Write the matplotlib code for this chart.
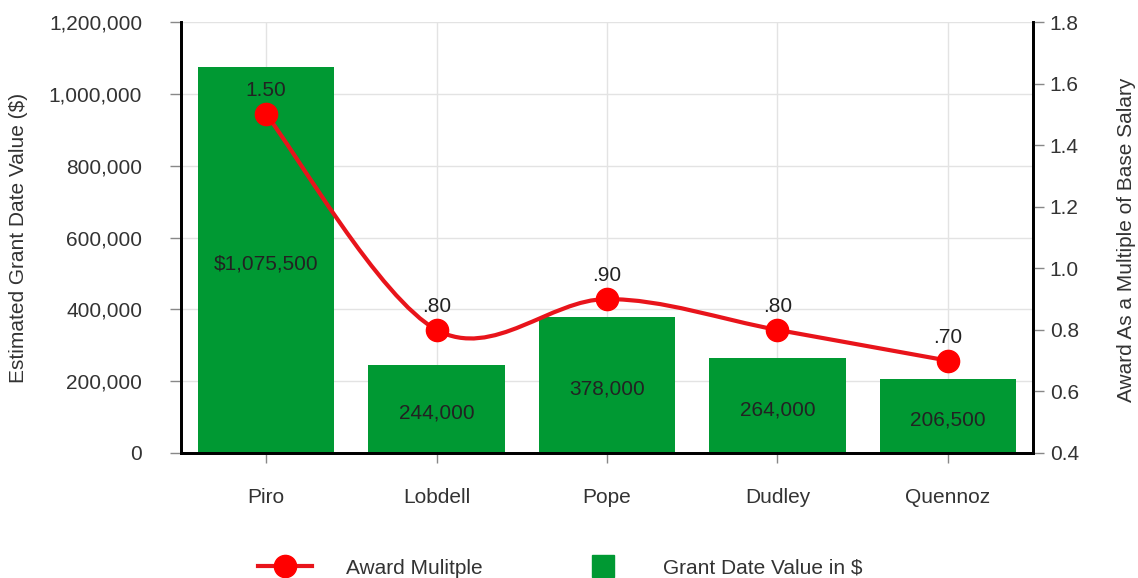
import matplotlib
matplotlib.use("Agg")
import matplotlib.pyplot as plt
from matplotlib.path import Path
from matplotlib.patches import PathPatch
from matplotlib.lines import Line2D
from matplotlib.ticker import FuncFormatter
import numpy as np

plt.rcParams['font.family'] = ['Liberation Sans', 'DejaVu Sans']

categories = ["Piro", "Lobdell", "Pope", "Dudley", "Quennoz"]
grant_values = [1075500, 244000, 378000, 264000, 206500]
grant_labels = ["$1,075,500", "244,000", "378,000", "264,000", "206,500"]
award_multiple = [1.50, 0.80, 0.90, 0.80, 0.70]
award_labels = ["1.50", ".80", ".90", ".80", ".70"]
left_ticks = [0, 200000, 400000, 600000, 800000, 1000000, 1200000]
right_ticks = [0.4, 0.6, 0.8, 1.0, 1.2, 1.4, 1.6, 1.8]

GREEN = "#009933"
RED_LINE = "#e8141b"
RED_MARK = "#ff0000"
TXT = "#333333"
FS = 15

fig = plt.figure(figsize=(11.38, 5.78), dpi=100)
ax = fig.add_axes([181/1138, 1-453/578, (1033-181)/1138, (453-22)/578])
ax2 = ax.twinx()

x = np.arange(len(categories))
ax.bar(x, grant_values, width=0.8, color=GREEN, zorder=2)
for xi, v, lab in zip(x, grant_values, grant_labels):
    ax.annotate(lab, (xi, v/2), xytext=(0, -3), textcoords='offset points',
                ha='center', va='center', fontsize=FS, color='#222222', zorder=3)

ax.set_xlim(-0.5, len(categories)-0.5)
ax.set_ylim(0, 1200000)
ax.set_yticks(left_ticks)
ax.yaxis.set_major_formatter(FuncFormatter(lambda v, p: f"{int(v):,}"))
ax.set_xticks(x)
ax.set_xticklabels(categories)
ax.grid(True, color="#e3e3e3", linewidth=1, zorder=0)
ax.set_axisbelow(True)

# smooth (Catmull-Rom) curve through the data points
ys = award_multiple
pts = list(zip(x.astype(float), ys))
verts = [pts[0]]
codes = [Path.MOVETO]
n = len(pts)
for i in range(n-1):
    p0 = pts[i-1] if i > 0 else pts[i]
    p1 = pts[i]
    p2 = pts[i+1]
    p3 = pts[i+2] if i+2 < n else pts[i+1]
    c1 = (p1[0] + (p2[0]-p0[0])/6, p1[1] + (p2[1]-p0[1])/6)
    c2 = (p2[0] - (p3[0]-p1[0])/6, p2[1] - (p3[1]-p1[1])/6)
    verts += [c1, c2, p2]
    codes += [Path.CURVE4]*3
ax2.add_patch(PathPatch(Path(verts, codes), facecolor='none', edgecolor=RED_LINE,
                        linewidth=3, zorder=3))
ax2.plot(x, ys, linestyle='none', marker='o', markersize=16, color=RED_MARK,
         markeredgecolor=RED_MARK, zorder=4)
for xi, v, lab in zip(x, ys, award_labels):
    ax2.annotate(lab, (xi, v), xytext=(0, 17), textcoords='offset points',
                 ha='center', va='center', fontsize=FS, color='#222222', zorder=5)
ax2.set_ylim(0.4, 1.8)
ax2.set_yticks(right_ticks)
ax2.yaxis.set_major_formatter(FuncFormatter(lambda v, p: f"{v:.1f}"))

for a in (ax, ax2):
    a.spines['top'].set_visible(False)
    for s in ('left', 'right', 'bottom'):
        a.spines[s].set_linewidth(2)
        a.spines[s].set_color('black')

ax.tick_params(axis='y', length=8, width=1, color='#888888', pad=20, labelsize=FS, labelcolor=TXT)
ax.tick_params(axis='x', length=7, width=1, color='#888888', pad=18, labelsize=FS, labelcolor=TXT)
ax2.tick_params(axis='y', length=8, width=1, color='#888888', pad=4, labelsize=FS, labelcolor=TXT)

fig.text(19/1138, 1-238/578, "Estimated Grant Date Value ($)", rotation=90,
         ha='center', va='center', fontsize=FS, color=TXT)
fig.text(1126/1138, 1-240/578, "Award As a Multiple of Base Salary", rotation=90,
         ha='center', va='center', fontsize=FS, color=TXT)

handles = [
    Line2D([], [], color=RED_LINE, linewidth=3, marker='o', markersize=16,
           markerfacecolor=RED_MARK, markeredgecolor=RED_MARK),
    Line2D([], [], linestyle='none', marker='s', markersize=16,
           markerfacecolor=GREEN, markeredgecolor=GREEN),
]
leg = fig.legend(handles, ["Award Mulitple", "Grant Date Value in $"], ncol=2,
                 loc='center left', bbox_to_anchor=(258/1138, 1-568/578),
                 frameon=False, fontsize=FS, handlelength=2.6, handletextpad=1.6,
                 columnspacing=4.5, borderpad=0, borderaxespad=0)
for t in leg.get_texts():
    t.set_color(TXT)

fig.savefig("out.png", dpi=100)
